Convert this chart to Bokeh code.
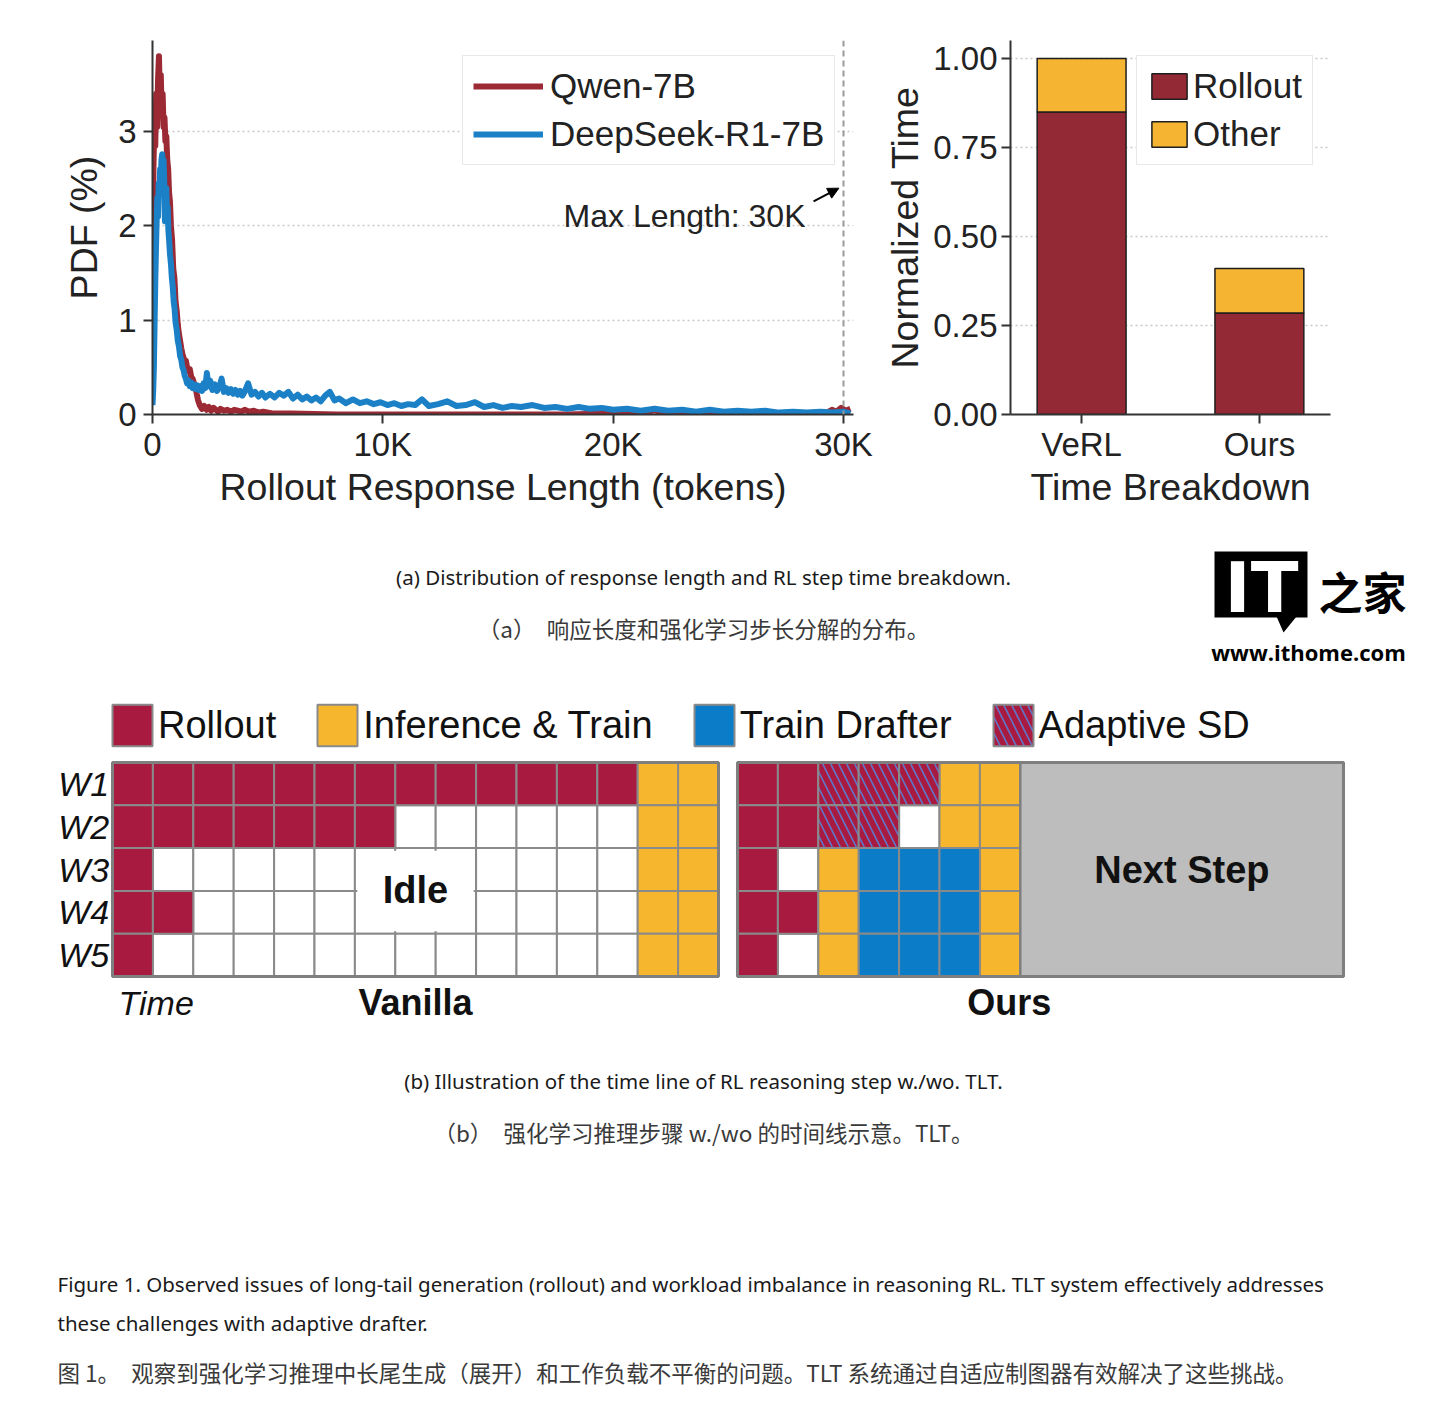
from bokeh.plotting import figure
from bokeh.models import (Range1d, FixedTicker, Legend, LegendItem, Span, Label,
                          Arrow, NormalHead, ColumnDataSource, NumeralTickFormatter)
from bokeh.layouts import column, row
from bokeh.embed import file_html
from bokeh.resources import INLINE
from bokeh.core.properties import value

FONT = "Liberation Sans"
CAP_FONT = "Noto Sans"
CJK_FONT = "Noto Sans CJK SC"

# ---------------- (a) left: PDF of rollout response length ----------------
qwen_x = [0, 40, 80, 120, 160, 200, 240, 280, 320, 360,
          400, 440, 480, 520, 560, 600, 640, 680, 720, 760,
          800, 850, 900, 950, 1000, 1050, 1100, 1150, 1200, 1250,
          1300, 1350, 1400, 1450, 1500, 1560, 1620, 1680, 1740, 1800,
          1860, 1920, 1980, 2050, 2150, 2250, 2350, 2450, 2550, 2650,
          2750, 2850, 2950, 3100, 3250, 3400, 3550, 3700, 3850, 4000,
          4200, 4400, 4600, 4800, 5200, 6000, 8000, 10000, 14000, 18000,
          21500, 21800, 22100, 24000, 28000, 29200, 29500, 29700, 29900, 30100,
          30300]
qwen_y = [1.30, 2.60, 3.10, 2.85, 3.40, 3.05, 3.55, 3.80, 3.35, 3.60,
          3.20, 3.40, 3.05, 3.15, 2.90, 2.95, 2.70, 2.60, 2.35, 2.25,
          2.00, 1.85, 1.55, 1.45, 1.20, 1.10, 0.95, 0.85, 0.78, 0.70,
          0.64, 0.60, 0.55, 0.57, 0.50, 0.46, 0.48, 0.40, 0.38, 0.33,
          0.30, 0.22, 0.15, 0.10, 0.06, 0.09, 0.05, 0.08, 0.04, 0.07,
          0.05, 0.03, 0.06, 0.04, 0.05, 0.03, 0.05, 0.04, 0.03, 0.05,
          0.03, 0.04, 0.02, 0.03, 0.01, 0.01, 0.00, 0.00, 0.00, 0.00,
          0.02, 0.05, 0.01, 0.00, 0.00, 0.01, 0.05, 0.03, 0.07, 0.04,
          0.06]

ds_x = [0, 30, 60, 90, 120, 150, 180, 210, 240, 270,
        300, 330, 360, 390, 420, 450, 480, 510, 540, 570,
        600, 630, 660, 690, 720, 760, 800, 840, 880, 920,
        960, 1000, 1050, 1100, 1150, 1200, 1250, 1300, 1350, 1400,
        1450, 1500, 1560, 1620, 1680, 1740, 1800, 1870, 1940, 2010,
        2080, 2150, 2220, 2290, 2360, 2430, 2500, 2600, 2700, 2800,
        2900, 3000, 3100, 3200, 3300, 3400, 3500, 3600, 3700, 3800,
        3900, 4000, 4150, 4300, 4450, 4600, 4750, 4900, 5100, 5300,
        5500, 5700, 5900, 6100, 6300, 6500, 6700, 6900, 7100, 7300,
        7500, 7700, 7900, 8100, 8400, 8700, 9000, 9300, 9600, 9900,
        10200, 10500, 10800, 11100, 11400, 11700, 12000, 12400, 12800, 13200,
        13600, 14000, 14400, 14800, 15200, 15600, 16000, 16500, 17000, 17500,
        18000, 18500, 19000, 19500, 20000, 20600, 21200, 21800, 22400, 23000,
        23600, 24200, 24800, 25400, 26000, 26600, 27200, 27800, 28400, 29000,
        29500, 30000, 30300]
ds_y = [0.10, 0.25, 0.50, 0.95, 1.40, 1.75, 2.05, 2.30, 2.10, 2.45,
        2.35, 2.60, 2.50, 2.70, 2.76, 2.62, 2.70, 2.45, 2.05, 2.30,
        2.40, 2.15, 2.20, 1.95, 1.85, 1.70, 1.60, 1.45, 1.35, 1.20,
        1.12, 0.98, 0.90, 0.78, 0.72, 0.62, 0.58, 0.50, 0.47, 0.41,
        0.38, 0.33, 0.36, 0.30, 0.34, 0.28, 0.32, 0.27, 0.31, 0.26,
        0.30, 0.25, 0.33, 0.28, 0.44, 0.30, 0.36, 0.26, 0.32, 0.25,
        0.29, 0.38, 0.24, 0.28, 0.23, 0.27, 0.22, 0.26, 0.21, 0.25,
        0.20, 0.24, 0.33, 0.21, 0.24, 0.19, 0.23, 0.18, 0.22, 0.18,
        0.23, 0.20, 0.24, 0.17, 0.21, 0.16, 0.19, 0.15, 0.18, 0.14,
        0.20, 0.24, 0.15, 0.17, 0.12, 0.16, 0.12, 0.14, 0.11, 0.13,
        0.10, 0.12, 0.09, 0.11, 0.10, 0.16, 0.09, 0.11, 0.14, 0.09,
        0.10, 0.13, 0.08, 0.10, 0.07, 0.09, 0.08, 0.10, 0.07, 0.08,
        0.06, 0.08, 0.06, 0.07, 0.05, 0.06, 0.04, 0.06, 0.04, 0.05,
        0.03, 0.05, 0.03, 0.04, 0.03, 0.04, 0.02, 0.03, 0.02, 0.03,
        0.02, 0.03, 0.01]

series_names = ["Qwen-7B", "DeepSeek-R1-7B"]
len_ticks = [0, 10000, 20000, 30000]
len_tick_labels = ["0", "10K", "20K", "30K"]
pdf_ticks = [0, 1, 2, 3]
max_length = 30000
max_length_text = "Max Length: 30K"

# ---------------- (a) right: time breakdown ----------------
systems = ["VeRL", "Ours"]
rollout_time = [0.85, 0.285]
other_time = [0.15, 0.125]
time_ticks = [0.0, 0.25, 0.5, 0.75, 1.0]
breakdown_names = ["Rollout", "Other"]

# ---------------- (b) timeline ----------------
workers = ["W1", "W2", "W3", "W4", "W5"]
# R = Rollout, T = Inference & Train, D = Train Drafter, S = Adaptive SD, . = idle
vanilla_rows = ["RRRRRRRRRRRRRTT",
                "RRRRRRR......TT",
                "R............TT",
                "RR...........TT",
                "R............TT"]
ours_rows = ["RRSSSTT",
             "RRSS.TT",
             "R.TDDDT",
             "RRTDDDT",
             "R.TDDDT"]
phase_codes = ["R", "T", "D", "S"]
phase_names = ["Rollout", "Inference & Train", "Train Drafter", "Adaptive SD"]
next_step_cols = 8
panel_titles = ["Vanilla", "Ours"]

# ---------------- texts ----------------
cap_a_en = "(a) Distribution of response length and RL step time breakdown."
cap_a_zh = "（a）　响应长度和强化学习步长分解的分布。"
cap_b_en = "(b) Illustration of the time line of RL reasoning step w./wo. TLT."
cap_b_zh = "（b）　强化学习推理步骤 w./wo 的时间线示意。TLT。"
fig_en_1 = ("Figure 1. Observed issues of long-tail generation (rollout) and workload imbalance "
            "in reasoning RL. TLT system effectively addresses")
fig_en_2 = "these challenges with adaptive drafter."
fig_zh = "图 1。　观察到强化学习推理中长尾生成（展开）和工作负载不平衡的问题。TLT 系统通过自适应制图器有效解决了这些挑战。"

# colours
C_QWEN = "#9B2A35"
C_DS = "#1B80C6"
C_ROLL = "#922934"
C_OTHER = "#F5B532"
TL_COLORS = {"R": "#A91A40", "T": "#F6B62D", "D": "#0B7CC7", "S": "#A91A40"}
GRID_C = "#8a8a8a"
AX_C = "#333333"
TXT_C = "#222222"


def style_axes(p):
    p.outline_line_color = None
    p.axis.axis_line_color = AX_C
    p.axis.axis_line_width = 2
    p.axis.major_tick_line_color = AX_C
    p.axis.major_tick_line_width = 2
    p.axis.major_tick_in = 0
    p.axis.major_tick_out = 9
    p.axis.minor_tick_line_color = None
    p.axis.major_label_text_font = FONT
    p.axis.major_label_text_font_size = "33px"
    p.axis.major_label_text_color = TXT_C
    p.axis.axis_label_text_font = FONT
    p.axis.axis_label_text_font_size = "37.5px"
    p.axis.axis_label_text_font_style = "normal"
    p.axis.axis_label_text_color = TXT_C
    p.xgrid.visible = False
    p.ygrid.grid_line_color = "#c8c8c8"
    p.ygrid.grid_line_dash = "2 3"
    p.ygrid.grid_line_width = 1.5


# ---------- p1 ----------
p1 = figure(width=880, height=520, x_range=Range1d(0, 30434), y_range=Range1d(0, 3.966),
            output_backend="svg", toolbar_location=None,
            min_border_left=152, min_border_right=27, min_border_top=40, min_border_bottom=106)
style_axes(p1)
p1.xaxis.ticker = FixedTicker(ticks=len_ticks)
p1.xaxis.major_label_overrides = {t: l for t, l in zip(len_ticks, len_tick_labels)}
p1.yaxis.ticker = FixedTicker(ticks=pdf_ticks)
p1.ygrid.ticker = FixedTicker(ticks=pdf_ticks[1:])
p1.xaxis.axis_label = "Rollout Response Length (tokens)"
p1.yaxis.axis_label = "PDF (%)"
p1.xaxis.major_label_standoff = 2
p1.xaxis.axis_label_standoff = 0
p1.yaxis.major_label_standoff = 7
p1.yaxis.axis_label_standoff = 10

p1.add_layout(Span(location=max_length, dimension="height", line_color="#9a9a9a",
                   line_dash="6 4", line_width=2))
r_q = p1.line(qwen_x, qwen_y, line_color=C_QWEN, line_width=6, line_join="round")
r_d = p1.line(ds_x, ds_y, line_color=C_DS, line_width=6, line_join="round")
p1.add_layout(Label(x=28350, y=2.11, text=max_length_text, text_align="right",
                    text_baseline="middle", text_font=FONT, text_font_size="32px",
                    text_color=TXT_C))
p1.add_layout(Arrow(end=NormalHead(size=11, fill_color="black", line_color="black"),
                    x_start=28700, y_start=2.26, x_end=29800, y_end=2.40,
                    line_width=2, line_color="black"))
leg1 = Legend(items=[LegendItem(label=series_names[0], renderers=[r_q]),
                     LegendItem(label=series_names[1], renderers=[r_d])],
              location=(310, 249), glyph_width=70, glyph_height=26, label_standoff=7,
              padding=10, spacing=8, label_text_font=FONT, label_text_font_size="35px",
              label_text_color=TXT_C, border_line_color="#d2d2d2", border_line_width=1.5,
              background_fill_color="white", background_fill_alpha=1.0)
p1.add_layout(leg1)

# ---------- p2 ----------
p2 = figure(width=552, height=520, x_range=Range1d(-0.4, 1.4), y_range=Range1d(0, 1.0506),
            output_backend="svg", toolbar_location=None,
            min_border_left=130, min_border_right=102, min_border_top=40, min_border_bottom=106)
style_axes(p2)
xs_idx = list(range(len(systems)))
p2.xaxis.ticker = FixedTicker(ticks=xs_idx)
p2.xaxis.major_label_overrides = {i: s for i, s in zip(xs_idx, systems)}
p2.yaxis.ticker = FixedTicker(ticks=time_ticks)
p2.ygrid.ticker = FixedTicker(ticks=time_ticks[1:])
p2.yaxis.formatter = NumeralTickFormatter(format="0.00")
p2.xaxis.axis_label = "Time Breakdown"
p2.yaxis.axis_label = "Normalized Time"
p2.xaxis.major_label_standoff = 2
p2.xaxis.axis_label_standoff = 0
p2.yaxis.major_label_standoff = 4
p2.yaxis.axis_label_standoff = 4
src = ColumnDataSource(dict(x=xs_idx, rollout=rollout_time, other=other_time))
bars = p2.vbar_stack(["rollout", "other"], x="x", width=0.5, source=src,
                     fill_color=[C_ROLL, C_OTHER], line_color="#1e1e1e", line_width=1.5)
leg2 = Legend(items=[LegendItem(label=breakdown_names[0], renderers=[bars[0]]),
                     LegendItem(label=breakdown_names[1], renderers=[bars[1]])],
              location=(126, 249), glyph_width=44, glyph_height=32, label_standoff=2,
              padding=10, spacing=8, label_text_font=FONT, label_text_font_size="35px",
              label_text_color=TXT_C, border_line_color="#d2d2d2", border_line_width=1.5,
              background_fill_color="white", background_fill_alpha=1.0)
p2.add_layout(leg2)


# ---------- caption figure helper (data coords = page pixels) ----------
def text_fig(top, h):
    f = figure(width=1424, height=h, x_range=Range1d(0, 1424), y_range=Range1d(top + h, top),
               x_axis_type=None, y_axis_type=None, output_backend="svg", toolbar_location=None,
               min_border=0)
    f.outline_line_color = None
    f.grid.visible = False
    return f


def add_text(f, x, y, txt, font, size, color="#1a1a1a", align="center", style="normal"):
    f.add_layout(Label(x=x, y=y, text=txt, text_font=font, text_font_size=size,
                       text_color=color, text_align=align, text_baseline="middle",
                       text_font_style=style))


pa = text_fig(520, 160)
add_text(pa, 703, 576, cap_a_en, CAP_FONT, "20.5px")
add_text(pa, 703, 627, cap_a_zh, CJK_FONT, "22.5px", color="#3a3a3a")
# watermark logo
pa.quad(left=[1214], right=[1307], top=[551], bottom=[617], fill_color="black", line_color=None)
pa.patch([1276, 1296, 1283], [616, 616, 632], fill_color="black", line_color=None)
add_text(pa, 1261, 587, "IT", "DejaVu Sans", "70px", color="white", style="bold")
add_text(pa, 1362, 590, "之家", CJK_FONT, "44px", color="black", style="bold")
add_text(pa, 1308, 651, "www.ithome.com", "Open Sans", "22px", color="black", style="bold")

# ---------- timeline figure (x in cell columns, y in worker rows) ----------
OURS_X0 = 15.47
pt = figure(width=1424, height=360, x_range=Range1d(-2.772, 32.475), y_range=Range1d(6.495, -1.916),
            x_axis_type=None, y_axis_type=None, output_backend="svg", toolbar_location=None,
            min_border=0)
pt.outline_line_color = None
pt.grid.visible = False


def cells(code):
    L, R, T, B = [], [], [], []
    for x0, rows in ((0, vanilla_rows), (OURS_X0, ours_rows)):
        for i, r in enumerate(rows):
            for j, c in enumerate(r):
                if c == code:
                    L.append(x0 + j); R.append(x0 + j + 1); T.append(i); B.append(i + 1)
    return dict(left=L, right=R, top=T, bottom=B)


pt.quad(source=ColumnDataSource(cells(".")), left="left", right="right", top="top",
        bottom="bottom", fill_color="white", line_color=GRID_C, line_width=2)
phase_r = {}
for code in phase_codes:
    kw = {}
    if code == "S":
        kw = dict(hatch_pattern="left_diagonal_line", hatch_color="#5d78c9",
                  hatch_weight=1.6, hatch_scale=16)
    phase_r[code] = pt.quad(source=ColumnDataSource(cells(code)), left="left", right="right",
                            top="top", bottom="bottom", fill_color=TL_COLORS[code],
                            line_color=GRID_C, line_width=2, **kw)
ours_cols = len(ours_rows[0])
pt.quad(left=[OURS_X0 + ours_cols], right=[OURS_X0 + ours_cols + next_step_cols], top=[0],
        bottom=[len(workers)], fill_color="#BDBDBD", line_color="#7f7f7f", line_width=2.5)
# white box behind "Idle"
pt.quad(left=[6.06], right=[8.94], top=[2.06], bottom=[3.94], fill_color="white", line_color=None)
# panel borders
pt.quad(left=[0, OURS_X0], right=[len(vanilla_rows[0]), OURS_X0 + ours_cols + next_step_cols],
        top=[0, 0], bottom=[len(workers)] * 2, fill_color=None, line_color="#7f7f7f", line_width=3)

pt.text(x=[-0.08] * len(workers), y=[i + 0.5 for i in range(len(workers))], text=workers,
        text_font=value(FONT), text_font_size="34px", text_font_style="italic",
        text_align="right", text_baseline="middle", text_color="#111111")
pt.text(x=[0.15], y=[5.61], text=["Time"], text_font=value(FONT), text_font_size="34px",
        text_font_style="italic", text_align="left", text_baseline="middle", text_color="#111111")
pt.text(x=[7.5, OURS_X0 + 6.73], y=[5.61, 5.61], text=panel_titles, text_font=value(FONT),
        text_font_size="36px", text_font_style="bold", text_align="center",
        text_baseline="middle", text_color="#111111")
pt.text(x=[7.5], y=[2.99], text=["Idle"], text_font=value(FONT), text_font_size="38px",
        text_font_style="bold", text_align="center", text_baseline="middle", text_color="#111111")
pt.text(x=[OURS_X0 + ours_cols + next_step_cols / 2], y=[2.5], text=["Next Step"],
        text_font=value(FONT), text_font_size="38px", text_font_style="bold",
        text_align="center", text_baseline="middle", text_color="#111111")

leg3 = Legend(items=[LegendItem(label=n, renderers=[phase_r[c]]) for c, n in zip(phase_codes, phase_names)],
              orientation="horizontal", location=(107, 289), glyph_width=50, glyph_height=52,
              label_standoff=1, spacing=36, padding=0, border_line_color=None,
              background_fill_alpha=0, label_text_font=FONT, label_text_font_size="38px",
              label_text_color="#111111")
pt.add_layout(leg3)

# ---------- bottom captions ----------
pb = text_fig(1040, 360)
add_text(pb, 703, 1080, cap_b_en, CAP_FONT, "20.5px")
add_text(pb, 703, 1131, cap_b_zh, CJK_FONT, "22.5px", color="#3a3a3a")
add_text(pb, 57, 1283, fig_en_1, CAP_FONT, "20.5px", align="left")
add_text(pb, 57, 1322, fig_en_2, CAP_FONT, "20.5px", align="left")
add_text(pb, 57, 1371, fig_zh, CJK_FONT, "22.5px", color="#3a3a3a", align="left")

layout = column(row(p1, p2), pa, pt, pb)
open("out.html", "w").write(file_html(layout, INLINE))
